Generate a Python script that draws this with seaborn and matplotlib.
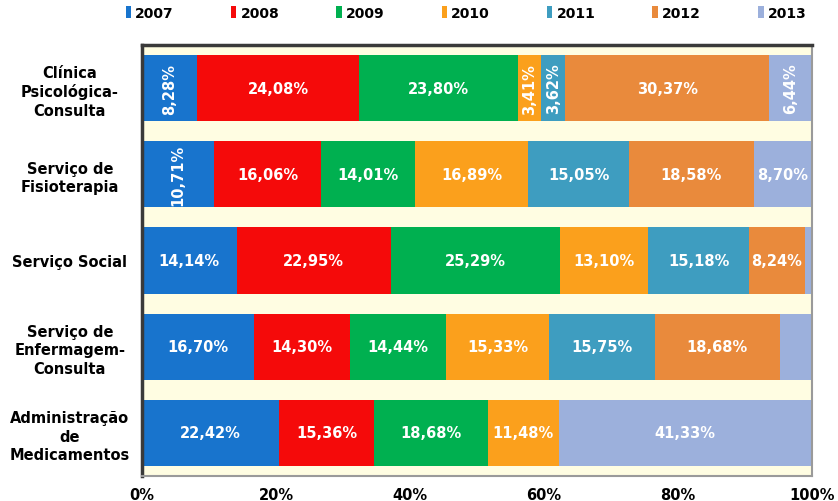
import numpy as np
import pandas as pd
import matplotlib
matplotlib.use("Agg")
import matplotlib.pyplot as plt
from matplotlib.patches import Patch
import seaborn as sns

# Services and yearly shares (%)
categories = [
    "Clínica\nPsicológica-\nConsulta",
    "Serviço de\nFisioterapia",
    "Serviço Social",
    "Serviço de\nEnfermagem-\nConsulta",
    "Administração\nde\nMedicamentos",
]
years = ["2007", "2008", "2009", "2010", "2011", "2012", "2013"]

v2007 = [8.28, 10.71, 14.14, 16.70, 22.42]
v2008 = [24.08, 16.06, 22.95, 14.30, 15.36]
v2009 = [23.80, 14.01, 25.29, 14.44, 18.68]
v2010 = [3.41, 16.89, 13.10, 15.33, 11.48]
v2011 = [3.62, 15.05, 15.18, 15.75, 0.0]
v2012 = [30.37, 18.58, 8.24, 18.68, 0.0]
v2013 = [6.44, 8.70, 1.10, 4.80, 41.33]

# which segments carry a printed value, and which of those are rotated
labelled_2013 = [True, True, False, False, True]
rotated = {(0, "2007"), (0, "2010"), (0, "2011"), (0, "2013"), (1, "2007")}

colors = ["#1874CD", "#F50A0A", "#00B050", "#FBA01C", "#3E9DC0", "#E98A3C", "#9CB0DC"]

series = [v2007, v2008, v2009, v2010, v2011, v2012, v2013]
raw = pd.DataFrame(np.array(series).T, index=categories, columns=years)
# 100 % stacked: each row is expressed as a share of its own total
share = raw.div(raw.sum(axis=1), axis=0) * 100
cum = share.cumsum(axis=1)

sns.set_theme(style="white")
plt.rcParams["font.family"] = ["DejaVu Sans"]

fig = plt.figure(figsize=(8.38, 5.02), dpi=100)
ax = fig.add_axes([142 / 838, 1 - 477 / 502, (812 - 142) / 838, (477 - 46) / 502])
ax.set_facecolor("#FFFDE2")

# draw cumulative bars from the last year back to the first so each one covers the next
for i in range(len(years) - 1, -1, -1):
    d = pd.DataFrame({"cat": categories, "val": cum.iloc[:, i].values})
    sns.barplot(data=d, x="val", y="cat", orient="h", color=colors[i],
                saturation=1, width=0.77, ax=ax, linewidth=0)

# value labels
for r, cat in enumerate(categories):
    left = 0.0
    for j, yr in enumerate(years):
        w = share.loc[cat, yr]
        val = raw.loc[cat, yr]
        show = val > 0 and (yr != "2013" or labelled_2013[r])
        if show:
            txt = f"{val:.2f}%".replace(".", ",")
            rot = 90 if (r, yr) in rotated else 0
            ax.text(left + w / 2, r, txt, ha="center", va="center", color="white",
                    fontsize=10.5, fontweight="bold", rotation=rot)
        left += w

ax.set_xlim(0, 100)
ax.set_ylim(4.5, -0.5)
ax.set_xlabel("")
ax.set_ylabel("")
ax.set_xticks([0, 20, 40, 60, 80, 100])
ax.set_xticklabels(["0%", "20%", "40%", "60%", "80%", "100%"], fontsize=10.5,
                   fontweight="bold", color="black")
ax.set_yticks(range(len(categories)))
ax.set_yticklabels(categories, fontsize=10.5, fontweight="bold", color="black",
                   ha="center", linespacing=1.28)
ax.tick_params(axis="y", pad=52, length=0)
ax.tick_params(axis="x", pad=8, length=0)

for side in ["top", "left"]:
    ax.spines[side].set_color("#3A3A3A")
    ax.spines[side].set_linewidth(2.5)
for side in ["right", "bottom"]:
    ax.spines[side].set_color("#9A9A9A")
    ax.spines[side].set_linewidth(1.5)

handles = [Patch(facecolor=c, edgecolor="none", label=y) for c, y in zip(colors, years)]
leg = fig.legend(handles=handles, loc="center", bbox_to_anchor=(466 / 838, 1 - 14 / 502),
                 ncol=7, frameon=False, handlelength=0.4, handleheight=0.9,
                 handletextpad=0.3, columnspacing=4.1,
                 prop={"weight": "bold", "size": 10})
for t in leg.get_texts():
    t.set_color("black")

fig.savefig("out.png", dpi=100)
